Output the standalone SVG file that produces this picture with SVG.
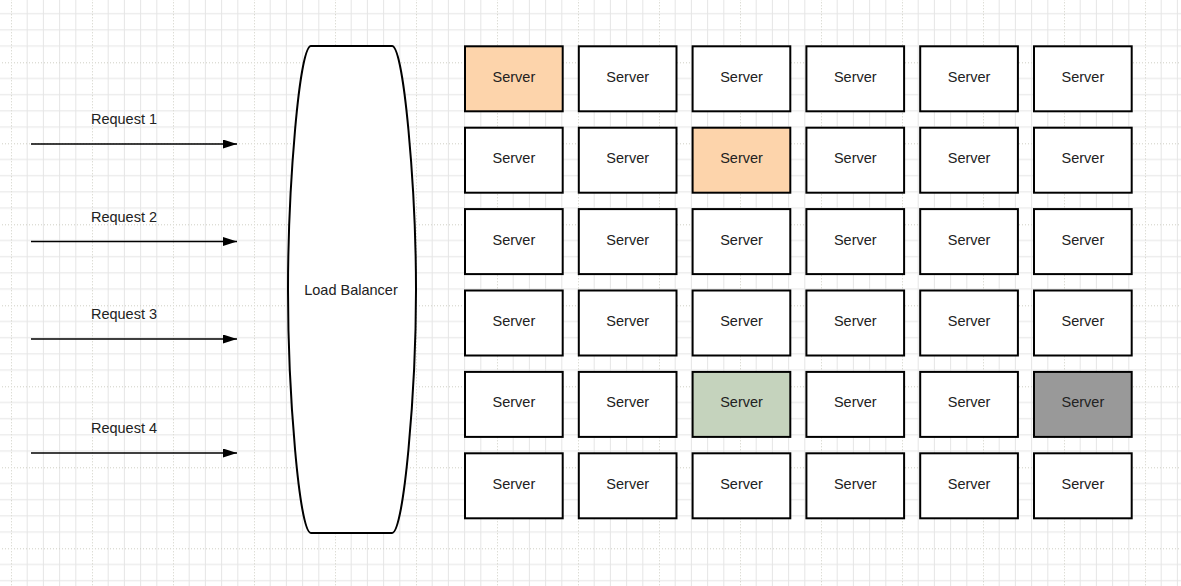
<svg xmlns="http://www.w3.org/2000/svg" width="1181" height="586" viewBox="0 0 1181 586">
<defs>
<pattern id="grid" patternUnits="userSpaceOnUse" x="11" y="-18.7" width="81" height="81">
<rect width="81" height="81" fill="#ffffff"/>
<g stroke="#e6e6e6" stroke-width="1">
<path d="M16.2,0V81M32.4,0V81M48.6,0V81M64.8,0V81M0,16.2H81M0,32.4H81M0,48.6H81M0,64.8H81"/>
</g>
<path d="M0.5,0V81M0,0.5H81" stroke="#cfcfc4" stroke-width="1" stroke-dasharray="1,2"/>
</pattern>
<marker id="arr" markerWidth="14" markerHeight="9" refX="14" refY="4.5" orient="auto" markerUnits="userSpaceOnUse">
<path d="M0,0 L14,4.5 L0,9 Z" fill="#000"/>
</marker>
<style>
.srv rect{stroke:#000;stroke-width:2;fill:#fff}
.srv text,.lbl,.lb text{font-family:"Liberation Sans",Arial,sans-serif;font-size:14.5px;fill:#222;text-anchor:middle}
.conn line{stroke:#000;stroke-width:1.6;marker-end:url(#arr)}
</style>
</defs>
<rect width="1181" height="586" fill="url(#grid)"/>
<g id="connectors" class="conn">
<line x1="31" y1="144" x2="237" y2="144"/>
<line x1="31" y1="241.5" x2="237" y2="241.5"/>
<line x1="31" y1="339" x2="237" y2="339"/>
<line x1="31" y1="453" x2="237" y2="453"/>
</g>
<g id="labels">
<text class="lbl" x="124" y="124">Request 1</text>
<text class="lbl" x="124" y="222">Request 2</text>
<text class="lbl" x="124" y="319">Request 3</text>
<text class="lbl" x="124" y="433">Request 4</text>
</g>
<g id="load-balancer" class="lb">
<path d="M311,46 L392,46 C404,46 416,190 416,290 C416,390 404,533 392,533 L311,533 C299,533 288,390 288,290 C288,190 299,46 311,46 Z" fill="#fff" stroke="#000" stroke-width="2"/>
<text x="351" y="295">Load Balancer</text>
</g>
<g id="server-r1c1" class="srv"><rect x="465" y="46.3" width="97.7" height="65" style="fill:#fdd4ab"/><text x="513.9" y="81.8">Server</text></g>
<g id="server-r1c2" class="srv"><rect x="578.8" y="46.3" width="97.7" height="65"/><text x="627.7" y="81.8">Server</text></g>
<g id="server-r1c3" class="srv"><rect x="692.6" y="46.3" width="97.7" height="65"/><text x="741.5" y="81.8">Server</text></g>
<g id="server-r1c4" class="srv"><rect x="806.4" y="46.3" width="97.7" height="65"/><text x="855.3" y="81.8">Server</text></g>
<g id="server-r1c5" class="srv"><rect x="920.2" y="46.3" width="97.7" height="65"/><text x="969.1" y="81.8">Server</text></g>
<g id="server-r1c6" class="srv"><rect x="1034" y="46.3" width="97.7" height="65"/><text x="1082.9" y="81.8">Server</text></g>

<g id="server-r2c1" class="srv"><rect x="465" y="127.7" width="97.7" height="65"/><text x="513.9" y="163.2">Server</text></g>
<g id="server-r2c2" class="srv"><rect x="578.8" y="127.7" width="97.7" height="65"/><text x="627.7" y="163.2">Server</text></g>
<g id="server-r2c3" class="srv"><rect x="692.6" y="127.7" width="97.7" height="65" style="fill:#fdd4ab"/><text x="741.5" y="163.2">Server</text></g>
<g id="server-r2c4" class="srv"><rect x="806.4" y="127.7" width="97.7" height="65"/><text x="855.3" y="163.2">Server</text></g>
<g id="server-r2c5" class="srv"><rect x="920.2" y="127.7" width="97.7" height="65"/><text x="969.1" y="163.2">Server</text></g>
<g id="server-r2c6" class="srv"><rect x="1034" y="127.7" width="97.7" height="65"/><text x="1082.9" y="163.2">Server</text></g>

<g id="server-r3c1" class="srv"><rect x="465" y="209.1" width="97.7" height="65"/><text x="513.9" y="244.6">Server</text></g>
<g id="server-r3c2" class="srv"><rect x="578.8" y="209.1" width="97.7" height="65"/><text x="627.7" y="244.6">Server</text></g>
<g id="server-r3c3" class="srv"><rect x="692.6" y="209.1" width="97.7" height="65"/><text x="741.5" y="244.6">Server</text></g>
<g id="server-r3c4" class="srv"><rect x="806.4" y="209.1" width="97.7" height="65"/><text x="855.3" y="244.6">Server</text></g>
<g id="server-r3c5" class="srv"><rect x="920.2" y="209.1" width="97.7" height="65"/><text x="969.1" y="244.6">Server</text></g>
<g id="server-r3c6" class="srv"><rect x="1034" y="209.1" width="97.7" height="65"/><text x="1082.9" y="244.6">Server</text></g>

<g id="server-r4c1" class="srv"><rect x="465" y="290.5" width="97.7" height="65"/><text x="513.9" y="326">Server</text></g>
<g id="server-r4c2" class="srv"><rect x="578.8" y="290.5" width="97.7" height="65"/><text x="627.7" y="326">Server</text></g>
<g id="server-r4c3" class="srv"><rect x="692.6" y="290.5" width="97.7" height="65"/><text x="741.5" y="326">Server</text></g>
<g id="server-r4c4" class="srv"><rect x="806.4" y="290.5" width="97.7" height="65"/><text x="855.3" y="326">Server</text></g>
<g id="server-r4c5" class="srv"><rect x="920.2" y="290.5" width="97.7" height="65"/><text x="969.1" y="326">Server</text></g>
<g id="server-r4c6" class="srv"><rect x="1034" y="290.5" width="97.7" height="65"/><text x="1082.9" y="326">Server</text></g>

<g id="server-r5c1" class="srv"><rect x="465" y="371.9" width="97.7" height="65"/><text x="513.9" y="407.4">Server</text></g>
<g id="server-r5c2" class="srv"><rect x="578.8" y="371.9" width="97.7" height="65"/><text x="627.7" y="407.4">Server</text></g>
<g id="server-r5c3" class="srv"><rect x="692.6" y="371.9" width="97.7" height="65" style="fill:#c5d3bd"/><text x="741.5" y="407.4">Server</text></g>
<g id="server-r5c4" class="srv"><rect x="806.4" y="371.9" width="97.7" height="65"/><text x="855.3" y="407.4">Server</text></g>
<g id="server-r5c5" class="srv"><rect x="920.2" y="371.9" width="97.7" height="65"/><text x="969.1" y="407.4">Server</text></g>
<g id="server-r5c6" class="srv"><rect x="1034" y="371.9" width="97.7" height="65" style="fill:#999999"/><text x="1082.9" y="407.4">Server</text></g>

<g id="server-r6c1" class="srv"><rect x="465" y="453.3" width="97.7" height="65"/><text x="513.9" y="488.8">Server</text></g>
<g id="server-r6c2" class="srv"><rect x="578.8" y="453.3" width="97.7" height="65"/><text x="627.7" y="488.8">Server</text></g>
<g id="server-r6c3" class="srv"><rect x="692.6" y="453.3" width="97.7" height="65"/><text x="741.5" y="488.8">Server</text></g>
<g id="server-r6c4" class="srv"><rect x="806.4" y="453.3" width="97.7" height="65"/><text x="855.3" y="488.8">Server</text></g>
<g id="server-r6c5" class="srv"><rect x="920.2" y="453.3" width="97.7" height="65"/><text x="969.1" y="488.8">Server</text></g>
<g id="server-r6c6" class="srv"><rect x="1034" y="453.3" width="97.7" height="65"/><text x="1082.9" y="488.8">Server</text></g>
</svg>
